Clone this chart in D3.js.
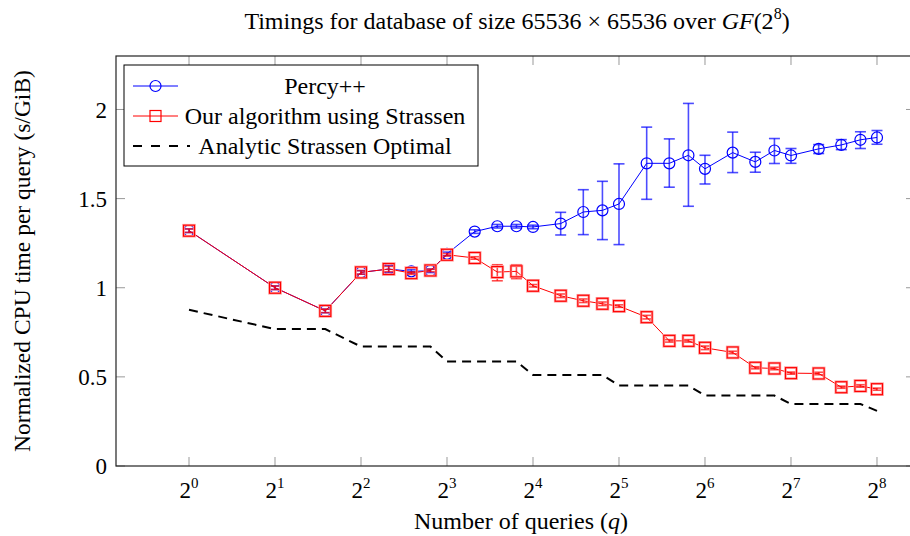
<!DOCTYPE html>
<html>
<head>
<meta charset="utf-8">
<script src="https://cdn.jsdelivr.net/npm/d3@7"></script>
<style>
  body { margin: 0; background: #fff; }
  text { font-family: "Liberation Serif", "DejaVu Serif", serif; fill: #000; }
</style>
</head>
<body>
<svg id="chart" width="910" height="536"></svg>
<script>
// number of queries
const queries = [1, 2, 3, 4, 5, 6, 7, 8, 10, 12, 14, 16, 20, 24, 28, 32, 40, 48, 56, 64, 80, 96, 112, 128, 160, 192, 224, 256];

// Percy++ mean and error bar bounds
const percyMean = [1.32, 1.00, 0.87, 1.086, 1.105, 1.092, 1.095, 1.19, 1.315, 1.345, 1.345, 1.341, 1.36, 1.425, 1.434, 1.47, 1.698, 1.698, 1.743, 1.667, 1.758, 1.706, 1.770, 1.742, 1.779, 1.801, 1.830, 1.843];
const percyLow  = [1.31, 0.99, 0.86, 1.076, 1.085, 1.082, 1.085, 1.18, 1.305, 1.335, 1.335, 1.331, 1.296, 1.298, 1.27, 1.242, 1.496, 1.564, 1.457, 1.582, 1.646, 1.648, 1.697, 1.698, 1.753, 1.775, 1.781, 1.805];
const percyHigh = [1.33, 1.01, 0.88, 1.096, 1.125, 1.102, 1.105, 1.20, 1.325, 1.355, 1.355, 1.351, 1.423, 1.55, 1.597, 1.695, 1.901, 1.835, 2.034, 1.743, 1.873, 1.760, 1.837, 1.781, 1.803, 1.831, 1.875, 1.882];

// our algorithm using Strassen
const oursMean = [1.32, 1.00, 0.87, 1.086, 1.105, 1.082, 1.097, 1.185, 1.167, 1.088, 1.092, 1.011, 0.955, 0.927, 0.910, 0.897, 0.835, 0.702, 0.702, 0.663, 0.637, 0.551, 0.547, 0.521, 0.519, 0.442, 0.449, 0.431];
const oursLow  = [1.31, 0.99, 0.86, 1.076, 1.09, 1.075, 1.09, 1.178, 1.16, 1.039, 1.051, 1.004, 0.945, 0.917, 0.90, 0.89, 0.825, 0.695, 0.695, 0.653, 0.63, 0.545, 0.54, 0.515, 0.512, 0.436, 0.442, 0.425];
const oursHigh = [1.33, 1.01, 0.88, 1.096, 1.12, 1.089, 1.104, 1.192, 1.174, 1.129, 1.129, 1.018, 0.965, 0.937, 0.92, 0.904, 0.845, 0.709, 0.709, 0.673, 0.644, 0.557, 0.554, 0.527, 0.526, 0.448, 0.456, 0.437];

// analytic Strassen optimal
const analytic = [0.876, 0.768, 0.768, 0.670, 0.670, 0.670, 0.670, 0.586, 0.586, 0.586, 0.586, 0.511, 0.511, 0.511, 0.511, 0.451, 0.451, 0.451, 0.451, 0.395, 0.395, 0.395, 0.395, 0.348, 0.348, 0.348, 0.348, 0.309];

const yTicks = [0, 0.5, 1, 1.5, 2];
const xTickExps = [0, 1, 2, 3, 4, 5, 6, 7, 8];

const svg = d3.select('#chart');
const plotLeft = 116, plotRight = 915, plotTop = 56, plotBottom = 466;

const x = d3.scaleLog().base(2)
    .domain([Math.pow(2, -0.849), Math.pow(2, 8.442)])
    .range([plotLeft, plotRight]);
const y = d3.scaleLinear().domain([0, 2.3]).range([plotBottom, plotTop]);

const tickLen = 9;
const tickColor = '#999';

// ticks (inside, mirrored)
const tk = svg.append('g').attr('stroke', tickColor).attr('stroke-width', 1);
xTickExps.forEach(e => {
    const px = x(Math.pow(2, e));
    tk.append('line').attr('x1', px).attr('x2', px).attr('y1', plotBottom).attr('y2', plotBottom - tickLen);
    tk.append('line').attr('x1', px).attr('x2', px).attr('y1', plotTop).attr('y2', plotTop + tickLen);
});
yTicks.forEach(v => {
    const py = y(v);
    tk.append('line').attr('x1', plotLeft).attr('x2', plotLeft + tickLen).attr('y1', py).attr('y2', py);
    tk.append('line').attr('x1', plotRight).attr('x2', plotRight - tickLen).attr('y1', py).attr('y2', py);
});

// axis frame
svg.append('rect')
    .attr('x', plotLeft).attr('y', plotTop)
    .attr('width', plotRight - plotLeft).attr('height', plotBottom - plotTop)
    .attr('fill', 'none').attr('stroke', '#222').attr('stroke-width', 1.2);

// tick labels
yTicks.forEach(v => {
    svg.append('text')
        .attr('x', 107).attr('y', y(v)).attr('dy', '0.35em')
        .attr('text-anchor', 'end').attr('font-size', 23)
        .text(v);
});
xTickExps.forEach(e => {
    const t = svg.append('text')
        .attr('x', x(Math.pow(2, e))).attr('y', 498)
        .attr('text-anchor', 'middle').attr('font-size', 23);
    t.append('tspan').text('2');
    t.append('tspan').attr('dy', -10).attr('font-size', 15).text(e);
});

// axis labels and title
svg.append('text')
    .attr('x', 521).attr('y', 529)
    .attr('text-anchor', 'middle').attr('font-size', 24)
    .html('Number of queries (<tspan font-style="italic">q</tspan>)');

svg.append('text')
    .attr('transform', 'translate(30,' + 261 + ') rotate(-90)')
    .attr('text-anchor', 'middle').attr('font-size', 23.5)
    .text('Normalized CPU time per query (s/GiB)');

const title = svg.append('text')
    .attr('x', 517).attr('y', 29)
    .attr('text-anchor', 'middle').attr('font-size', 24);
title.append('tspan').text('Timings for database of size 65536 \u00d7 65536 over ');
title.append('tspan').attr('font-style', 'italic').text('GF');
title.append('tspan').text('(2');
title.append('tspan').attr('dy', -10).attr('font-size', 16).text('8');
title.append('tspan').attr('dy', 10).text(')');

// data
const percy = queries.map((q, i) => ({q: q, v: percyMean[i], lo: percyLow[i], hi: percyHigh[i]}));
const ours = queries.map((q, i) => ({q: q, v: oursMean[i], lo: oursLow[i], hi: oursHigh[i]}));
const opt = queries.map((q, i) => ({q: q, v: analytic[i]}));

const line = d3.line().x(d => x(d.q)).y(d => y(d.v));

// analytic dashed
svg.append('path')
    .datum(opt)
    .attr('d', line)
    .attr('fill', 'none').attr('stroke', '#000')
    .attr('stroke-width', 2).attr('stroke-dasharray', '9,6');

function drawSeries(data, color, halo, marker) {
    const g = svg.append('g');
    g.append('path')
        .datum(data)
        .attr('d', line)
        .attr('fill', 'none').attr('stroke', color).attr('stroke-width', 1);

    // error bars
    const eb = g.append('g').attr('stroke', color).attr('stroke-width', 1.6).attr('stroke-opacity', 0.7);
    data.forEach(d => {
        const px = x(d.q);
        eb.append('line').attr('x1', px).attr('x2', px).attr('y1', y(d.lo)).attr('y2', y(d.hi));
        eb.append('line').attr('x1', px - 5.5).attr('x2', px + 5.5).attr('y1', y(d.lo)).attr('y2', y(d.lo));
        eb.append('line').attr('x1', px - 5.5).attr('x2', px + 5.5).attr('y1', y(d.hi)).attr('y2', y(d.hi));
    });

    // markers
    const mk = g.append('g').attr('fill', 'none');
    data.forEach(d => {
        if (marker === 'circle') {
            mk.append('circle').attr('cx', x(d.q)).attr('cy', y(d.v)).attr('r', 5.5)
                .attr('stroke', color).attr('stroke-width', 1.2);
        } else {
            mk.append('rect').attr('x', x(d.q) - 5.5).attr('y', y(d.v) - 5.5)
                .attr('width', 11).attr('height', 11)
                .attr('stroke', halo).attr('stroke-width', 2.6);
            mk.append('rect').attr('x', x(d.q) - 5.5).attr('y', y(d.v) - 5.5)
                .attr('width', 11).attr('height', 11)
                .attr('stroke', color).attr('stroke-width', 1.1);
        }
    });
}

drawSeries(percy, '#0000ff', null, 'circle');
drawSeries(ours, '#ff0000', '#ff9a9a', 'square');

// legend
const lg = svg.append('g');
lg.append('rect')
    .attr('x', 124).attr('y', 65).attr('width', 354).attr('height', 101)
    .attr('fill', '#fff').attr('stroke', '#000').attr('stroke-width', 1);

const legendItems = [
    {label: 'Percy++', color: '#0000ff', marker: 'circle', y: 86},
    {label: 'Our algorithm using Strassen', color: '#ff0000', marker: 'square', y: 116},
    {label: 'Analytic Strassen Optimal', color: '#000', marker: 'dash', y: 146}
];
legendItems.forEach(it => {
    if (it.marker === 'dash') {
        lg.append('line').attr('x1', 133).attr('x2', 190).attr('y1', it.y).attr('y2', it.y)
            .attr('stroke', '#000').attr('stroke-width', 2).attr('stroke-dasharray', '9,9');
    } else {
        lg.append('line').attr('x1', 133).attr('x2', 178).attr('y1', it.y).attr('y2', it.y)
            .attr('stroke', it.color).attr('stroke-width', 1);
        if (it.marker === 'circle') {
            lg.append('circle').attr('cx', 155.5).attr('cy', it.y).attr('r', 5.5)
                .attr('fill', 'none').attr('stroke', it.color).attr('stroke-width', 1.2);
        } else {
            lg.append('rect').attr('x', 150).attr('y', it.y - 5.5).attr('width', 11).attr('height', 11)
                .attr('fill', 'none').attr('stroke', it.color).attr('stroke-width', 1.2);
        }
    }
    lg.append('text')
        .attr('x', 325).attr('y', it.y).attr('dy', '0.35em')
        .attr('text-anchor', 'middle').attr('font-size', 24)
        .text(it.label);
});
</script>
</body>
</html>
